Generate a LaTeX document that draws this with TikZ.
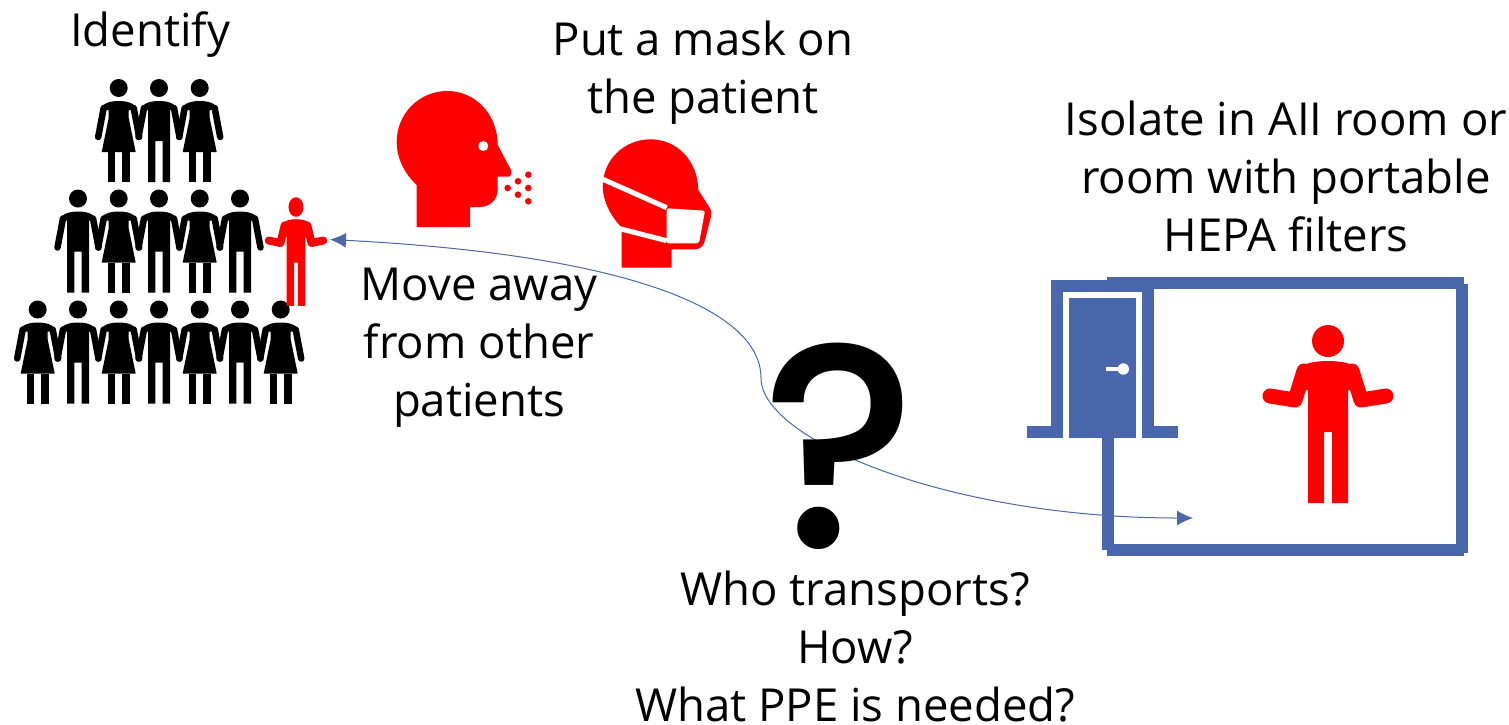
\documentclass[tikz,border=0pt]{standalone}
\usepackage{fontspec}
\setmainfont{Open Sans}
\newfontfamily\qmarkfont{Poppins}[UprightFont=*-Medium]
\usetikzlibrary{arrows.meta}
\definecolor{roomblue}{HTML}{4A66AC}
\definecolor{alertred}{HTML}{FF0000}
\tikzset{
    pics/manfig/.style={code={
        \fill (0,0) circle (9);
        \draw[line width=6.5pt, line cap=round] (-15,20) -- (-20.5,49) (15,20) -- (20.5,49);
        \fill (-11,94) -- (-11,22) -- (-18,22) .. controls (-17,15) and (-8,13) .. (0,13)
            .. controls (8,13) and (17,15) .. (18,22) -- (11,22) -- (11,94) -- (3.7,94)
            -- (3.7,53) -- (-3.7,53) -- (-3.7,94) -- cycle;
    }},
    pics/womanfig/.style={code={
        \fill (0,0) circle (9);
        \draw[line width=6.5pt, line cap=round] (-15,20) -- (-20.5,49) (15,20) -- (20.5,49);
        \fill (-10,30) -- (-10,22) -- (-18,22) .. controls (-17,15) and (-8,13) .. (0,13)
            .. controls (8,13) and (17,15) .. (18,22) -- (10,22) -- (10,30) -- (17,64) -- (-17,64) -- cycle;
        \fill (-11,64) rectangle (-3.7,94);
        \fill (3.7,64) rectangle (11,94);
    }},
    pics/shrugfig/.style={code={
        \fill (0,0) circle (16);
        \draw[line width=#1, line cap=round, line join=round]
            (-58,55) -- (-33,59) -- (-24,30) (58,55) -- (33,59) -- (24,30);
        \fill (-20,162) -- (-20,49) -- (-24,49) -- (-30,30) .. controls (-28,22) and (-12,20) .. (0,20)
            .. controls (12,20) and (28,22) .. (30,30) -- (24,49) -- (20,49) -- (20,162) -- (4,162)
            -- (4,91) -- (-4,91) -- (-4,162) -- cycle;
    }},
    caption/.style={align=center, font=\fontsize{45.5}{58}\selectfont, inner sep=0pt},
    wall/.style={roomblue, line width=12pt}
}
\begin{document}
\begin{tikzpicture}[x=1pt, y=-1pt]
\useasboundingbox (0,0) rectangle (1509,724);

\node[caption] (identify) at (150,35) {Identify};
\node[caption] (maskon) at (703,73) {Put a mask on\\the patient};
\node[caption] (isolate) at (1286,176) {Isolate in AII room or\\room with portable\\HEPA filters};
\node[caption] (moveaway) at (479,348) {Move away\\from other\\patients};
\node[caption] (transport) at (855,647) {Who transports?\\How?\\What PPE is needed?};

\foreach \posx/\posy in {159/88, 78/198.5, 159/198.5, 240/198.5, 78/309.5, 159/309.5, 240/309.5}
    \pic at (\posx,\posy) {manfig};
\foreach \posx/\posy in {118.7/88, 199.7/88, 118.7/198.5, 199.7/198.5, 37.7/309.5, 118.7/309.5, 199.7/309.5, 280.7/309.5}
    \pic at (\posx,\posy) {womanfig};
\pic[alertred, xscale=.47, yscale=.61] at (296,207) {shrugfig=8pt};

\fill[alertred] (416.7,185) -- (416.7,227) -- (470,227) -- (470,207) -- (480,207)
    .. controls (490,207) and (497.7,199) .. (497.7,190) -- (497.7,176.7) -- (508.3,176.7)
    .. controls (511,176.7) and (512,173) .. (511,170) -- (497.7,145)
    .. controls (497.7,114) and (475,91) .. (447.3,91)
    .. controls (419,91) and (396.7,114) .. (396.7,141.7)
    .. controls (396.7,158) and (404,173) .. (416.7,185) -- cycle;
\fill[white] (483.3,146) circle (5);
\foreach \posx/\posy in {507.7/188, 518/181.3, 518/194.7, 528.3/174.7, 528.3/188, 528.3/201.3}
    \fill[alertred] (\posx,\posy) circle (3.3);

\fill[alertred] (621.7,267.7) -- (671.7,267.7) -- (671.7,249.3) -- (695,249.3)
    .. controls (701,249.3) and (704,245) .. (705,240) -- (711,216.7)
    .. controls (711.5,213) and (711.5,210) .. (710,208.3) -- (698.3,190)
    .. controls (698,161) and (677,139.3) .. (650.7,139.3)
    .. controls (624,139.3) and (602.7,160) .. (602.7,186.7)
    .. controls (602.7,200) and (610,215) .. (620,225.7) -- (621.7,231.7) -- cycle;
\draw[white, line width=5pt] (600,178) -- (666.7,207.7) (616,227.7) -- (666.7,240.7);
\fill[white, rounded corners=2pt] (666.7,208.3) -- (705,210.7) -- (699,243.3) -- (666.7,243.3) -- cycle;

\draw[wall] (1107.3,283.3) -- (1464,283.3);
\draw[wall] (1462,284.3) -- (1462,552.7);
\draw[wall] (1107.3,550.3) -- (1464,550.3);
\draw[wall] (1107.7,438.3) -- (1107.7,550);
\draw[wall] (1027,432.3) -- (1056.8,432.3) -- (1056.8,286) -- (1147.8,286) -- (1147.8,432.3) -- (1177.7,432.3);
\fill[white] (1062.7,292) rectangle (1142,438.3);
\fill[roomblue] (1068.7,297.7) rectangle (1136,438.3);
\fill[white] (1123.3,369) circle (5.7);
\fill[white] (1106,367) rectangle (1123,371);

\pic[alertred] at (1328,341) {shrugfig=15pt};

\coordinate (patient) at (330,239.5);
\coordinate (bend) at (761,378);
\coordinate (room) at (1193,518);
\draw[roomblue, line width=1pt, {Latex[length=16pt, width=15pt]}-{Latex[length=16pt, width=15pt]}]
    (patient) .. controls (630,255) and (761,310) .. (bend)
    .. controls (761,440) and (950,518) .. (room);

\node[font=\fontsize{290}{290}\qmarkfont, inner sep=0pt] (qmark) at (839,446) {?};
\end{tikzpicture}
\end{document}
